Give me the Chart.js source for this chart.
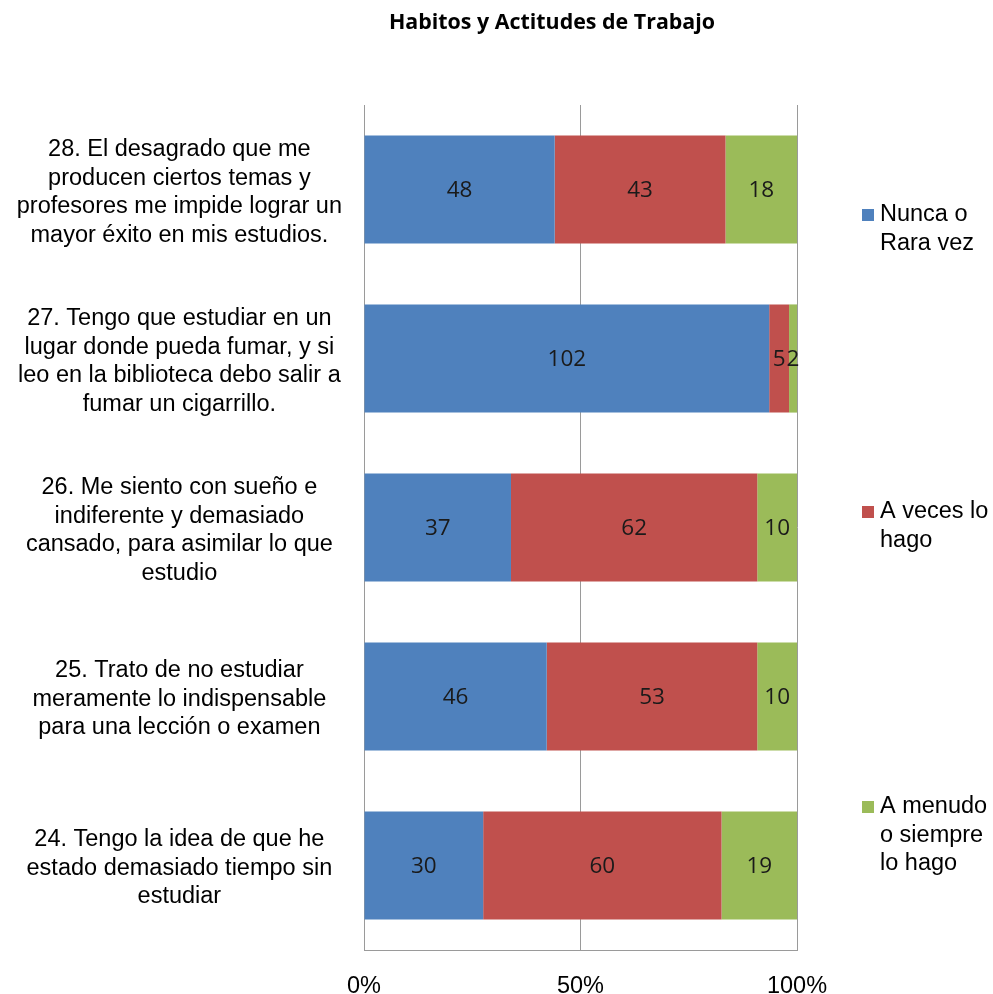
<!DOCTYPE html>
<html>
<head>
<meta charset="utf-8">
<script src="https://cdn.jsdelivr.net/npm/chart.js@4/dist/chart.umd.min.js"></script>
<style>
  html, body { margin: 0; padding: 0; background: #ffffff; }
  #wrap { width: 993px; height: 994px; position: relative; }
</style>
</head>
<body>
<div id="wrap"><canvas id="c"></canvas></div>
<script>
// Survey items (each label split into its display lines)
const categories = [
  ["28. El desagrado que me", "producen ciertos temas y", "profesores me impide lograr un", "mayor éxito en mis estudios."],
  ["27. Tengo que estudiar en un", "lugar donde pueda fumar, y si", "leo en la biblioteca debo salir a", "fumar un cigarrillo."],
  ["26. Me siento con sueño e", "indiferente y demasiado", "cansado, para asimilar lo que", "estudio"],
  ["25. Trato de no estudiar", "meramente lo indispensable", "para una lección o examen"],
  ["24. Tengo la idea de que he", "estado demasiado tiempo sin", "estudiar"]
];

// Answer counts per item
const nuncaRaraVez = [48, 102, 37, 46, 30];
const aVecesLoHago = [43, 5, 62, 53, 60];
const aMenudoSiempre = [18, 2, 10, 10, 19];

const seriesNames = [
  ["Nunca o", "Rara vez"],
  ["A veces lo", "hago"],
  ["A menudo", "o siempre", "lo hago"]
];
const xTickValues = [0, 50, 100];
const chartTitle = "Habitos y Actitudes de Trabajo";

const colors = ["#4F81BD", "#C0504D", "#9BBB59"];
const counts = [nuncaRaraVez, aVecesLoHago, aMenudoSiempre];
const totals = categories.map((_, i) => counts.reduce((s, arr) => s + arr[i], 0));
const asPercent = arr => arr.map((v, i) => v / totals[i] * 100);

const labelFont = "'Liberation Sans', Arial, sans-serif";
const textSize = 23.5;

// Count labels centred inside each segment
const segmentLabels = {
  id: "segmentLabels",
  afterDatasetsDraw(chart) {
    const ctx = chart.ctx;
    ctx.save();
    ctx.font = "22.5px 'Open Sans', sans-serif";
    ctx.fillStyle = "#1a1a1a";
    ctx.textAlign = "center";
    ctx.textBaseline = "middle";
    chart.data.datasets.forEach((ds, di) => {
      const meta = chart.getDatasetMeta(di);
      meta.data.forEach((bar, i) => {
        const x = (bar.x + bar.base) / 2;
        ctx.fillText(String(ds.counts[i]), x, bar.y + 1);
      });
    });
    ctx.restore();
  }
};

// Title and the widely spaced legend on the right
const sideLegend = {
  id: "sideLegend",
  afterDraw(chart, args, opts) {
    const ctx = chart.ctx;
    ctx.save();
    ctx.font = "bold 21.4px 'Open Sans', sans-serif";
    ctx.fillStyle = "#000";
    ctx.textAlign = "center";
    ctx.textBaseline = "middle";
    ctx.fillText(chartTitle, opts.titleX, opts.titleY);

    ctx.font = textSize + "px " + labelFont;
    ctx.textAlign = "left";
    chart.data.datasets.forEach((ds, di) => {
      const y0 = opts.itemY[di];
      ctx.fillStyle = ds.backgroundColor;
      ctx.fillRect(opts.boxX, y0 - 6, 12, 12);
      ctx.fillStyle = "#000";
      ds.legendLines.forEach((line, li) => {
        ctx.fillText(line, opts.textX, y0 + li * opts.lineHeight);
      });
    });
    ctx.restore();
  }
};

new Chart(document.getElementById("c"), {
  type: "bar",
  data: {
    labels: categories,
    datasets: counts.map((arr, k) => ({
      label: seriesNames[k].join(" "),
      legendLines: seriesNames[k],
      counts: arr,
      data: asPercent(arr),
      backgroundColor: colors[k],
      borderWidth: 0,
      categoryPercentage: 1,
      barPercentage: 0.64
    }))
  },
  options: {
    indexAxis: "y",
    responsive: true,
    maintainAspectRatio: false,
    animation: false,
    layout: { padding: { top: 105, right: 196, bottom: 0, left: 0 } },
    plugins: {
      legend: { display: false },
      title: { display: false },
      tooltip: { enabled: false },
      sideLegend: {
        titleX: 552, titleY: 23,
        boxX: 862, textX: 880, lineHeight: 28.5,
        itemY: [215, 512, 807]
      }
    },
    scales: {
      x: {
        stacked: true,
        min: 0,
        max: 100,
        afterBuildTicks: scale => { scale.ticks = xTickValues.map(v => ({ value: v })); },
        afterFit: scale => { scale.height = 44; scale.paddingLeft = 0; scale.paddingRight = 0; },
        ticks: {
          callback: v => v + "%",
          font: { family: labelFont, size: textSize },
          color: "#000",
          padding: 22,
          maxRotation: 0
        },
        grid: { color: "#9a9a9a", lineWidth: 1, drawTicks: false },
        border: { display: true, color: "#9a9a9a", width: 1 }
      },
      y: {
        stacked: true,
        afterFit: scale => { scale.width = 364; scale.paddingTop = 0; scale.paddingBottom = 0; },
        ticks: {
          crossAlign: "center",
          font: { family: labelFont, size: textSize, lineHeight: 1.213 },
          color: "#000",
          padding: 22,
          labelOffset: 3
        },
        grid: { display: false, drawTicks: false },
        border: { display: true, color: "#9a9a9a", width: 1 }
      }
    }
  },
  plugins: [segmentLabels, sideLegend]
});
</script>
</body>
</html>
